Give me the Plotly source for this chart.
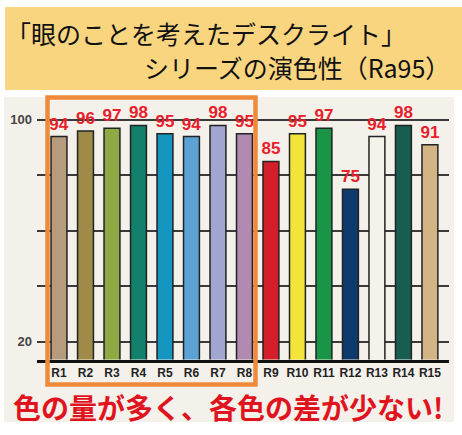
import plotly.graph_objects as go

categories = ["R1", "R2", "R3", "R4", "R5", "R6", "R7", "R8",
              "R9", "R10", "R11", "R12", "R13", "R14", "R15"]
values = [94, 96, 97, 98, 95, 94, 98, 95, 85, 95, 97, 75, 94, 98, 91]
bar_colors = ["#B89A7C", "#A08A48", "#8DAA45", "#12806A", "#1496C0",
              "#5BA3D5", "#A0A6D0", "#B08AB0", "#D41E2A", "#F3E43A",
              "#1A9548", "#0E3A6E", "#F5F2EA", "#175E50", "#D3B484"]
y_tickvals = [20, 40, 60, 80, 100]
y_ticktext = ["20", "", "", "", "100"]

W, H = 462, 435

def px_x(p):
    return p / W

def px_y(p):
    return 1 - p / H

fig = go.Figure()
fig.add_trace(go.Bar(
    x=categories, y=values,
    marker=dict(color=bar_colors, line=dict(color="#222222", width=1.5)),
    width=0.6,
    text=[str(v) for v in values],
    textposition="outside",
    constraintext="none",
    textfont=dict(family="Liberation Sans Narrow, Liberation Sans", size=17,
                  color="#E8202A", weight="bold"),
    cliponaxis=False,
    showlegend=False,
))

fig.update_layout(
    width=W, height=H,
    margin=dict(l=0, r=0, t=0, b=0),
    paper_bgcolor="white",
    plot_bgcolor="rgba(0,0,0,0)",
    bargap=0.4,
    xaxis=dict(
        domain=[px_x(37), px_x(449)],
        range=[-0.83, 14.72],
        showline=True, linecolor="#111111", linewidth=3,
        showgrid=False, ticks="",
        tickfont=dict(family="Liberation Sans Narrow, Liberation Sans", size=12,
                      color="#222222", weight="bold"),
        fixedrange=True,
    ),
    yaxis=dict(
        domain=[px_y(359.5), px_y(97)],
        range=[13.54, 108.25],
        tickvals=y_tickvals, ticktext=y_ticktext,
        showgrid=True, gridcolor="#3a3a3a", gridwidth=1.5,
        zeroline=False, showline=False, ticks="",
        tickfont=dict(family="Liberation Sans", size=13, color="#444444", weight="bold"),
        ticklabelstandoff=4,
        fixedrange=True,
    ),
    shapes=[
        # title box
        dict(type="rect", xref="paper", yref="paper",
             x0=px_x(5), x1=px_x(462), y0=px_y(90), y1=px_y(7),
             fillcolor="#F9D580", line=dict(width=0), layer="below"),
        # chart panel
        dict(type="rect", xref="paper", yref="paper",
             x0=px_x(4), x1=px_x(454), y0=px_y(422), y1=px_y(97),
             fillcolor="#F4F1EB", line=dict(width=0), layer="below"),
        # orange highlight box
        dict(type="rect", xref="paper", yref="paper",
             x0=px_x(47.5), x1=px_x(255.5), y0=px_y(384.5), y1=px_y(97.5),
             fillcolor="rgba(0,0,0,0)", line=dict(color="#EE8A3A", width=4.5),
             layer="above"),
    ],
    annotations=[
        dict(text="「眼のことを考えたデスクライト」", xref="paper", yref="paper",
             x=px_x(4), y=px_y(33), xanchor="left", yanchor="middle",
             showarrow=False,
             font=dict(family="Noto Sans CJK JP", size=25, color="#111111")),
        dict(text="シリーズの演色性（Ra95）", xref="paper", yref="paper",
             x=px_x(452), y=px_y(67), xanchor="right", yanchor="middle",
             showarrow=False,
             font=dict(family="Noto Sans CJK JP", size=25, color="#111111")),
        dict(text="色の量が多く、各色の差が少ない!", xref="paper", yref="paper",
             x=px_x(228), y=px_y(407), xanchor="center", yanchor="middle",
             showarrow=False,
             font=dict(family="Noto Sans CJK JP", size=28, color="#E0141E", weight="bold")),
    ],
)

fig.write_html("out.html", config={"displayModeBar": False},
               post_script="document.body.style.margin='0';document.body.style.overflow='hidden';")
